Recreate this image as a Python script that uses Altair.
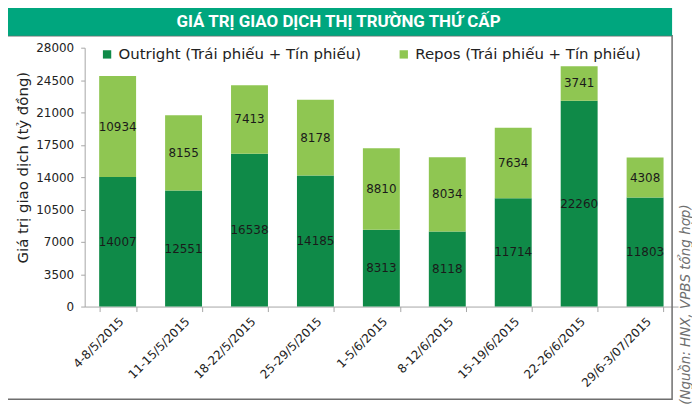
import altair as alt
import pandas as pd

weeks = ["4-8/5/2015", "11-15/5/2015", "18-22/5/2015", "25-29/5/2015", "1-5/6/2015",
         "8-12/6/2015", "15-19/6/2015", "22-26/6/2015", "29/6-3/07/2015"]
outright = [14007, 12551, 16538, 14185, 8313, 8118, 11714, 22260, 11803]
repos = [10934, 8155, 7413, 8178, 8810, 8034, 7634, 3741, 4308]
series_names = ["Outright (Trái phiếu + Tín phiếu)", "Repos (Trái phiếu + Tín phiếu)"]
series_colors = ["#0F8A48", "#8FC652"]
y_ticks = [0, 3500, 7000, 10500, 14000, 17500, 21000, 24500, 28000]
chart_title = "GIÁ TRỊ GIAO DỊCH THỊ TRƯỜNG THỨ CẤP"
y_title = "Giá trị giao dịch (tỷ đồng)"
source_note = "(Nguồn: HNX, VPBS tổng hợp)"

rows = []
for w, o, r in zip(weeks, outright, repos):
    rows.append({"week": w, "series": series_names[0], "value": o, "ord": 0})
    rows.append({"week": w, "series": series_names[1], "value": r, "ord": 1})
df = pd.DataFrame(rows)

FONT = "DejaVu Sans"
W, H = 596, 260

x_axis = alt.Axis(title=None, labelAngle=-45, labelFont=FONT, labelFontSize=12,
                  labelColor="#222222", tickBand="extent", tickSize=5,
                  domainColor="#A6A6A6", tickColor="#A6A6A6", labelPadding=4)
x_scale = alt.Scale(paddingInner=0.44, paddingOuter=0.22)
y_scale = alt.Scale(domain=[0, 28000], nice=False)
y_axis = alt.Axis(values=y_ticks, format="d", title=y_title, titleFont=FONT, titleFontSize=15,
                  titleFontWeight="normal", titleColor="#222222", titleY=120,
                  labelFont=FONT, labelFontSize=12, labelColor="#222222",
                  tickSize=4, labelPadding=7, titlePadding=5,
                  domainColor="#A6A6A6", tickColor="#A6A6A6", grid=False)

bars = alt.Chart(df).mark_bar().encode(
    x=alt.X("week:N", sort=weeks, scale=x_scale, axis=x_axis),
    y=alt.Y("value:Q", stack="zero", scale=y_scale, axis=y_axis),
    color=alt.Color("series:N",
                    scale=alt.Scale(domain=series_names, range=series_colors),
                    legend=alt.Legend(title=None, orient="none", legendX=15, legendY=-1,
                                      direction="horizontal", symbolType="square",
                                      symbolSize=70, symbolStrokeWidth=0,
                                      labelFont=FONT, labelFontSize=15, labelColor="#222222",
                                      labelOffset=4, columnPadding=35, labelLimit=400)),
    order=alt.Order("ord:Q"),
)

labels = alt.Chart(df).transform_stack(
    stack="value", groupby=["week"], as_=["v0", "v1"],
    sort=[alt.SortField("ord", order="ascending")]
).transform_calculate(
    mid="(datum.v0 + datum.v1) / 2"
).mark_text(font=FONT, fontSize=12, color="#1A1A1A", baseline="middle").encode(
    x=alt.X("week:N", sort=weeks, scale=x_scale, axis=x_axis),
    y=alt.Y("mid:Q", scale=y_scale, axis=y_axis),
    text=alt.Text("value:Q", format="d"),
)

one = pd.DataFrame({"a": [0]})
box = alt.Chart(one).mark_rect(fill="white", fillOpacity=0, stroke="#6E6E6E",
                               strokeWidth=1.5).encode(
    x=alt.value(-81), x2=alt.value(590), y=alt.value(-12), y2=alt.value(353))
banner = alt.Chart(one).mark_rect(fill="#00A67E").encode(
    x=alt.value(-81), x2=alt.value(590), y=alt.value(-42), y2=alt.value(-12))
title_txt = alt.Chart(one).mark_text(
    text=chart_title, font="Roboto", fontSize=17, fontWeight="bold",
    color="white", align="center", baseline="middle").encode(
    x=alt.value(255), y=alt.value(-26))
source_txt = alt.Chart(one).mark_text(
    text=source_note, font=FONT, fontSize=13.5, fontStyle="italic", color="#6F6F6F",
    angle=270, align="center", baseline="middle").encode(
    x=alt.value(604), y=alt.value(258))

chart = alt.layer(box, banner, title_txt, bars, labels, source_txt).properties(
    width=W, height=H,
    autosize=alt.AutoSizeParams(type="none"),
    padding={"left": 77, "top": 39, "right": 14, "bottom": 98},
    background="white",
).configure_view(stroke=None)

chart.save("out.html", embed_options={"renderer": "svg", "actions": False})
